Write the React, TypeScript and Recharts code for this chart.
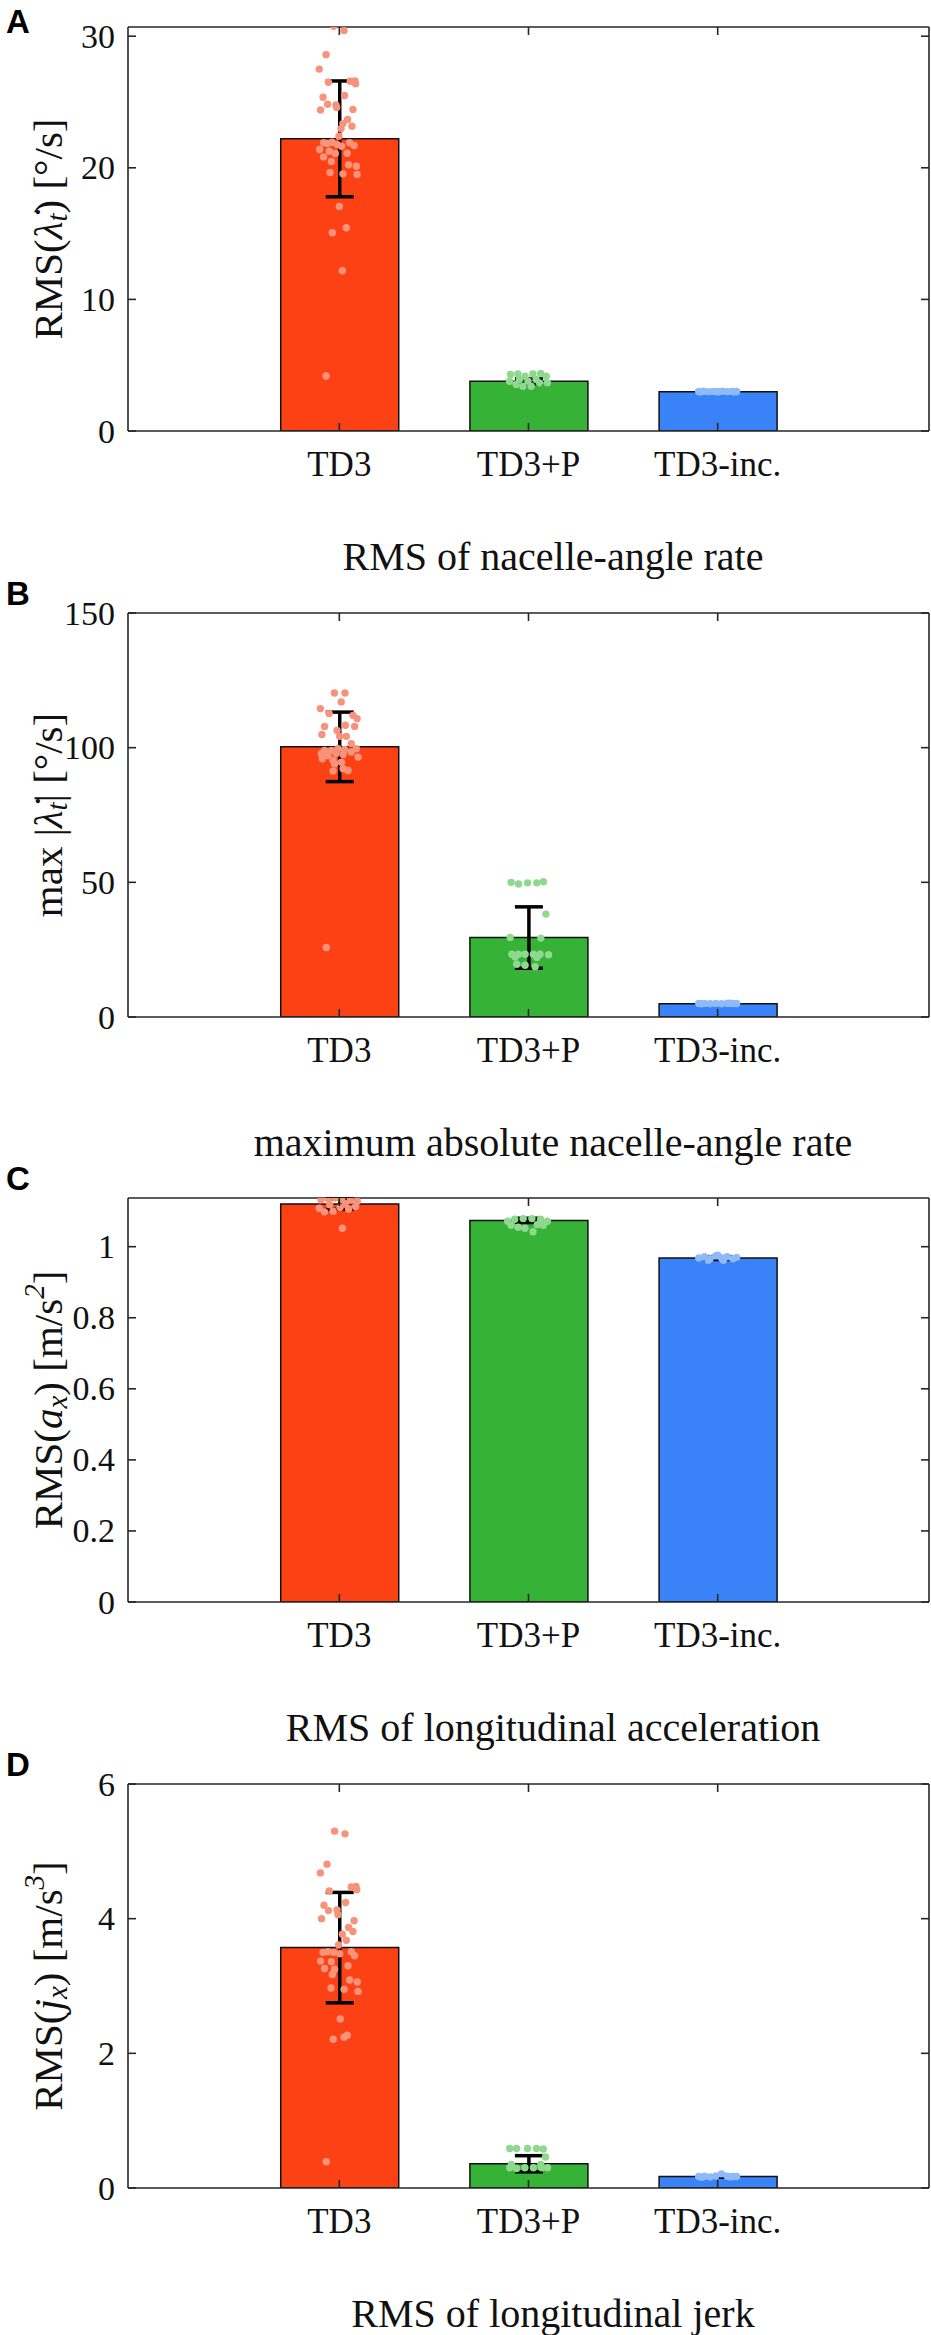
import { ComposedChart, Bar, Cell, ErrorBar, Scatter, XAxis, YAxis } from 'recharts'

const methods = ['TD3', 'TD3+P', 'TD3-inc.']
const methodPos = [1, 2, 3]
const barColors = ['#fc4214', '#36b236', '#3a82f7']
const dotColors = ['#f8937b', '#8fd88f', '#8fbaf8']

// A: RMS of nacelle-angle rate
const rateMean = [22.2, 3.78, 2.98]
const rateSd = [4.4, 0.18, 0.04]
const rateTicks = [0, 10, 20, 30]
const rateTd3 = [
  [-0.03, 30.75], [0.025, 30.43], [-0.07, 28.6], [-0.106, 27.5], [-0.058, 26.5], [0.058, 26.58], [0.083, 26.6],
  [0.086, 26.38], [-0.086, 25.36], [0.028, 25.49], [-0.062, 24.83], [-0.018, 24.78], [-0.014, 24.58], [-0.099, 24.4],
  [0.072, 24.43], [0.044, 23.67], [0.019, 23.36], [0.067, 23.16], [0.009, 22.98], [-0.002, 22.4], [-0.083, 21.9],
  [-0.065, 21.85], [-0.039, 21.94], [-0.012, 21.77], [0.012, 21.64], [0.054, 21.9], [0.078, 21.69], [-0.104, 21.39],
  [-0.053, 21.26], [-0.021, 21.09], [-0.083, 20.83], [0.041, 21.11], [-0.042, 20.48], [0.049, 20.23], [0.09, 20.12],
  [-0.049, 19.64], [0.019, 19.54], [0.094, 19.49], [0, 17.06], [0.037, 15.44], [-0.037, 15.06], [0.016, 12.18],
  [-0.07, 4.18],
]
const rateTd3p = [
  [-0.095, 4.29], [-0.056, 4.34], [-0.018, 4.16], [0.023, 4.34], [0.064, 4.37], [0.094, 4.16], [-0.1, 3.78],
  [-0.065, 3.53], [-0.03, 3.4], [0.014, 3.4], [0.058, 3.66], [0.1, 3.66], [-0.048, 3.91], [0.04, 3.91], [-0.003, 3.78],
]
const rateInc = [
  [-0.1, 3.0], [-0.075, 3.02], [-0.05, 2.99], [-0.025, 3.01], [0, 3.0], [0.025, 3.02], [0.05, 2.99], [0.075, 3.01],
  [0.1, 3.0], [-0.09, 2.97], [0.09, 2.97], [0, 2.97],
]

// B: maximum absolute nacelle-angle rate
const maxMean = [100.3, 29.5, 4.9]
const maxSd = [12.9, 11.4, 0.2]
const maxTicks = [0, 50, 100, 150]
const maxTd3 = [
  [-0.026, 120.3], [0.03, 120.3], [0.01, 117], [-0.1, 114.5], [-0.054, 112.7], [0.072, 112], [0.094, 110.8],
  [-0.078, 107.9], [0.032, 108.3], [0.081, 107.9], [-0.012, 106.4], [-0.092, 104.9], [0.002, 104.2], [0.037, 104.2],
  [0.063, 101.5], [-0.078, 99], [-0.042, 99], [-0.007, 99.6], [0.028, 99.3], [0.09, 99.6], [-0.095, 97.8],
  [-0.06, 97.1], [-0.016, 97.8], [0.02, 97.5], [0.063, 98.4], [0.099, 96.5], [-0.09, 95.9], [-0.033, 95.3],
  [0.011, 94.6], [-0.025, 94], [0.02, 92.2], [0.046, 91.5], [-0.033, 91.3], [-0.069, 25.8],
]
const maxTd3p = [
  [-0.092, 50], [-0.053, 49.4], [-0.005, 49.8], [0.044, 49.8], [0.079, 50.2], [0.092, 38.2], [-0.097, 29.5],
  [0.065, 29.3], [-0.088, 23.3], [-0.053, 23.3], [-0.018, 23.3], [0.026, 23.3], [0.061, 23.3], [0.106, 23.1],
  [-0.062, 19.6], [-0.018, 19.2], [0.035, 18.7], [-0.071, 22.3], [0.044, 22.1],
]
const maxInc = [
  [-0.1, 5.0], [-0.07, 5.05], [-0.04, 4.95], [-0.01, 5.05], [0.02, 4.95], [0.05, 5.05], [0.08, 5.0], [0.1, 5.0],
  [-0.085, 4.9], [0.065, 5.1],
]

// C: RMS of longitudinal acceleration
const accMean = [1.12, 1.074, 0.968]
const accSd = [0.015, 0.006, 0.004]
const accTicks = [0, 0.2, 0.4, 0.6, 0.8, 1]
const accTd3 = [
  [-0.097, 1.132], [-0.06, 1.135], [-0.024, 1.137], [0.013, 1.133], [0.058, 1.131], [0.095, 1.128], [-0.106, 1.108],
  [-0.079, 1.098], [-0.033, 1.1], [0.004, 1.11], [0.049, 1.106], [0.086, 1.113], [-0.051, 1.118], [0.031, 1.12],
  [0.016, 1.052],
]
const accTd3p = [
  [-0.11, 1.0715], [-0.073, 1.077], [-0.028, 1.079], [0.018, 1.079], [0.064, 1.077], [0.1, 1.0715], [-0.092, 1.06],
  [-0.055, 1.055], [-0.019, 1.052], [0.024, 1.042], [0.078, 1.06], [0.046, 1.062],
]
const accInc = [
  [-0.1, 0.968], [-0.07, 0.972], [-0.04, 0.966], [-0.01, 0.974], [0.02, 0.968], [0.05, 0.972], [0.08, 0.966],
  [0.1, 0.97], [-0.05, 0.962], [0.03, 0.962], [0, 0.976],
]

// D: RMS of longitudinal jerk
const jerkMean = [3.57, 0.36, 0.17]
const jerkSd = [0.82, 0.12, 0.01]
const jerkTicks = [0, 2, 4, 6]
const jerkTd3 = [
  [-0.025, 5.3], [0.03, 5.26], [-0.065, 4.81], [-0.1, 4.68], [-0.053, 4.41], [0.063, 4.47], [0.088, 4.48],
  [0.092, 4.43], [-0.081, 4.2], [0.033, 4.24], [-0.057, 4.12], [-0.012, 4.13], [-0.007, 4.06], [-0.094, 4.0],
  [0.078, 3.97], [0.049, 3.87], [0.016, 3.77], [0.072, 3.81], [0.037, 3.68], [-0.004, 3.61], [-0.086, 3.5],
  [-0.06, 3.51], [-0.03, 3.5], [0.002, 3.48], [0.063, 3.51], [0.081, 3.45], [-0.099, 3.37], [-0.042, 3.36],
  [0.046, 3.3], [-0.078, 3.26], [-0.025, 3.25], [-0.037, 3.17], [0.055, 3.09], [0.095, 3.06], [-0.044, 2.97],
  [0.025, 2.95], [0.099, 2.92], [0.005, 2.51], [0.042, 2.27], [0.025, 2.24], [-0.032, 2.21], [-0.069, 0.39],
]
const jerkTd3p = [
  [-0.099, 0.586], [-0.063, 0.586], [-0.005, 0.586], [0.042, 0.586], [0.078, 0.58], [0.09, 0.46], [-0.09, 0.35],
  [0.065, 0.35], [-0.099, 0.3], [-0.063, 0.29], [-0.019, 0.3], [0.026, 0.3], [0.069, 0.3], [0.101, 0.3],
]
const jerkInc = [
  [-0.1, 0.17], [-0.07, 0.175], [-0.04, 0.165], [-0.01, 0.18], [0.02, 0.21], [0.05, 0.175], [0.08, 0.17],
  [0.1, 0.17], [-0.085, 0.16], [0.065, 0.165],
]

type Part = [string, string]

const panels = [
  {
    letter: 'A', title: 'RMS of nacelle-angle rate', domain: [0, 30.7], ticks: rateTicks,
    means: rateMean, sds: rateSd, dots: [rateTd3, rateTd3p, rateInc],
    yLabel: [['RMS(', ''], ['λ̇', 'i'], ['t', 'sub'], [') [°/s]', '']] as Part[],
  },
  {
    letter: 'B', title: 'maximum absolute nacelle-angle rate', domain: [0, 150], ticks: maxTicks,
    means: maxMean, sds: maxSd, dots: [maxTd3, maxTd3p, maxInc],
    yLabel: [['max |', ''], ['λ̇', 'i'], ['t', 'sub'], ['| [°/s]', '']] as Part[],
  },
  {
    letter: 'C', title: 'RMS of longitudinal acceleration', domain: [0, 1.137], ticks: accTicks,
    means: accMean, sds: accSd, dots: [accTd3, accTd3p, accInc],
    yLabel: [['RMS(', ''], ['a', 'i'], ['x', 'sub'], [') [m/s', ''], ['2', 'sup'], [']', '']] as Part[],
  },
  {
    letter: 'D', title: 'RMS of longitudinal jerk', domain: [0, 6], ticks: jerkTicks,
    means: jerkMean, sds: jerkSd, dots: [jerkTd3, jerkTd3p, jerkInc],
    yLabel: [['RMS(', ''], ['j', 'i'], ['x', 'sub'], [') [m/s', ''], ['3', 'sup'], [']', '']] as Part[],
  },
]

const AXIS = '#262626'
const SERIF = 'Liberation Serif, Times New Roman, serif'
const BOX_TOP = 27
const STEP = 585.5
const BOX_H = 404
const LABEL_PX = 41
const TICK_LEN = 8
const GAP = 13

function YTitle({ parts }: { parts: Part[] }) {
  const cx = 48
  const cy = 10 + BOX_H / 2
  let shift = 0
  return (
    <text x={cx} y={cy} transform={`rotate(-90 ${cx} ${cy})`} textAnchor="middle" dominantBaseline="central"
      fontFamily={SERIF} fontSize={LABEL_PX} fill="#111">
      {parts.map(([s, kind], i) => {
        const target = kind === 'sub' ? 9 : kind === 'sup' ? -14 : 0
        const dy = target - shift
        shift = target
        return (
          <tspan key={i} dy={dy} fontStyle={kind === '' ? 'normal' : 'italic'}
            fontSize={kind === 'sub' || kind === 'sup' ? 29 : LABEL_PX}>
            {s}
          </tspan>
        )
      })}
    </text>
  )
}

// MATLAB-style ticks: short marks pointing into the box, labels outside
const leftTick = (t: any) => (
  <g>
    <line x1={t.x + GAP} x2={t.x + GAP + TICK_LEN} y1={t.y} y2={t.y} stroke={AXIS} strokeWidth={1.6} />
    <text x={t.x} y={t.y} textAnchor="end" dominantBaseline="central" fontFamily={SERIF} fontSize={34} fill="#111">
      {t.payload.value}
    </text>
  </g>
)
const rightTick = (t: any) => (
  <line x1={t.x - GAP} x2={t.x - GAP - TICK_LEN} y1={t.y} y2={t.y} stroke={AXIS} strokeWidth={1.6} />
)
const bottomTick = (t: any) => (
  <g>
    <line x1={t.x} x2={t.x} y1={t.y - GAP - 7} y2={t.y - GAP - 7 - TICK_LEN} stroke={AXIS} strokeWidth={1.6} />
    <text x={t.x} y={t.y} dy="0.71em" textAnchor="middle" fontFamily={SERIF} fontSize={35} fill="#111">
      {methods[t.payload.value - 1]}
    </text>
  </g>
)
const topTick = (t: any) => (
  <line x1={t.x} x2={t.x} y1={t.y + GAP} y2={t.y + GAP + TICK_LEN} stroke={AXIS} strokeWidth={1.6} />
)

function Panel({ p, idx }: { p: (typeof panels)[number]; idx: number }) {
  const bars = methods.map((m, i) => ({ x: methodPos[i], y: p.means[i], sd: p.sds[i], name: m }))
  const line = { stroke: AXIS, strokeWidth: 1.6 }
  const xProps = {
    type: 'number' as const,
    dataKey: 'x',
    domain: [-0.117, 4.117],
    ticks: methodPos,
    allowDataOverflow: true,
    tickSize: 0,
    tickLine: false,
    axisLine: line,
  }
  const yProps = {
    type: 'number' as const,
    dataKey: 'y',
    domain: p.domain,
    ticks: p.ticks,
    allowDataOverflow: true,
    tickSize: 0,
    tickLine: false,
    axisLine: line,
    tickMargin: GAP,
  }
  return (
    <div style={{ position: 'absolute', left: 0, top: BOX_TOP + idx * STEP - 10 }}>
      <ComposedChart width={931} height={10 + BOX_H + 60} data={bars}
        margin={{ top: 9, right: 1, bottom: 0, left: 0 }}>
        <XAxis {...xProps} height={60} tickMargin={GAP + 7} tick={bottomTick} />
        <XAxis {...xProps} xAxisId="top" orientation="top" height={1} tickMargin={GAP} tick={topTick} />
        <YAxis {...yProps} width={128} tick={leftTick}
          label={{ content: () => <YTitle parts={p.yLabel} /> }} />
        <YAxis {...yProps} yAxisId="r" orientation="right" width={1} tick={rightTick} />
        <Bar dataKey="y" barSize={118} stroke="#111" strokeWidth={1.5} isAnimationActive={false}>
          {bars.map((b, i) => <Cell key={b.name} fill={barColors[i]} />)}
          <ErrorBar dataKey="sd" width={14} stroke="#000" strokeWidth={3.5} direction="y" isAnimationActive={false} />
        </Bar>
        {p.dots.map((pts, i) => (
          <Scatter key={methods[i]} xAxisId="top" yAxisId="r" dataKey="y"
            data={pts.map(([dx, v]) => ({ x: methodPos[i] + dx, y: v }))}
            isAnimationActive={false}
            shape={(sp: any) => <circle cx={sp.cx} cy={sp.cy} r={3.7} fill={dotColors[i]} />} />
        ))}
      </ComposedChart>
    </div>
  )
}

export default function App() {
  return (
    <div style={{ position: 'absolute', left: 0, top: 0, width: 931, height: 2335, background: '#fff' }}>
      {panels.map((p, i) => <Panel key={p.letter} p={p} idx={i} />)}
      <svg width={931} height={2335} style={{ position: 'absolute', left: 0, top: 0, pointerEvents: 'none' }}>
        {panels.map((p, i) => {
          const top = BOX_TOP + i * STEP
          return (
            <g key={p.letter}>
              <text x={6} y={i === 0 ? 33 : top - 8} fontFamily="Liberation Sans, Arial, sans-serif"
                fontWeight="bold" fontSize={33} fill="#000">{p.letter}</text>
              <text x={553} y={top + 543} textAnchor="middle" fontFamily={SERIF} fontSize={40}
                fill="#111">{p.title}</text>
            </g>
          )
        })}
      </svg>
    </div>
  )
}
